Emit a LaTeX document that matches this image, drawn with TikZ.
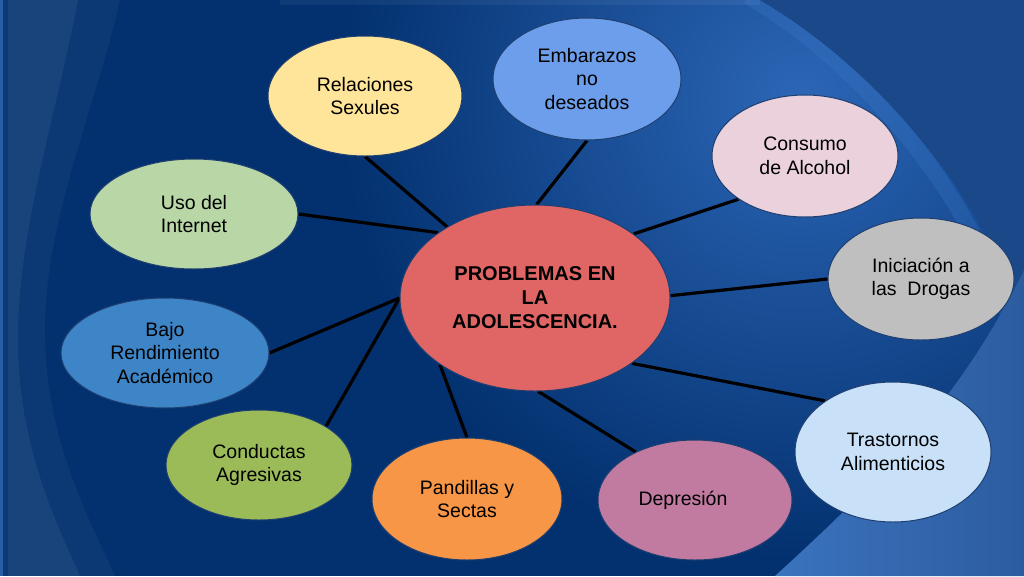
\documentclass[tikz,border=0pt]{standalone}
\usepackage{fontspec}
\setmainfont{Liberation Sans}
\usetikzlibrary{shapes.geometric}
\pgfdeclarelayer{bg}
\pgfdeclarelayer{edges}
\pgfsetlayers{bg,edges,main}
\definecolor{navy}{HTML}{03316F}
\definecolor{outerblue}{HTML}{1B4889}
\definecolor{lightblue}{HTML}{2C66B6}
\definecolor{rimblue}{HTML}{3A78C8}
\definecolor{brblueA}{HTML}{3B73BE}
\definecolor{brblueB}{HTML}{2C5CA0}
\definecolor{cred}{HTML}{E06666}
\definecolor{cyellow}{HTML}{FFE599}
\definecolor{cemb}{HTML}{6D9EEB}
\definecolor{ccons}{HTML}{EAD1DC}
\definecolor{cgray}{HTML}{BFBFBF}
\definecolor{ctras}{HTML}{C9E1F8}
\definecolor{cdep}{HTML}{C27BA0}
\definecolor{cpan}{HTML}{F79646}
\definecolor{ccond}{HTML}{9BBB59}
\definecolor{cbajo}{HTML}{3D85C6}
\definecolor{cuso}{HTML}{B9D7A6}
\definecolor{edgeblue}{HTML}{1F3F70}
\tikzset{
  bub/.style={ellipse, draw=edgeblue, line width=1pt, inner sep=0pt, align=center,
    text=black, font=\fontsize{19.5}{23.5}\selectfont},
  conn/.style={line width=3.2pt, black}
}
\begin{document}
\begin{tikzpicture}[x=1pt,y=-1pt]
\useasboundingbox (0,0) rectangle (1024,576);
\begin{pgfonlayer}{bg}
\fill[navy] (0,0) rectangle (1024,576);
% lighter disc region
\begin{scope}
\clip (0,0) -- (760,0) .. controls (880,70) and (985,200) .. (1024,320) -- (1024,576) -- (0,576) -- cycle;
\shade[inner color=lightblue, outer color=navy] (800,100) circle (460);
\draw[rimblue, opacity=0.3, line width=16pt] (748,-4) .. controls (866,66) and (970,196) .. (1010,320);
\fill[white, opacity=0.05] (280,0) rectangle (760,5);
\end{scope}
\fill[outerblue] (760,0) .. controls (880,70) and (985,200) .. (1024,320) -- (1024,0) -- cycle;
% bottom-right region
\shade[left color=brblueA, right color=brblueB] (775,576) .. controls (880,480) and (960,400) .. (1024,270) -- (1024,576) -- cycle;
% left waves
\fill[white, opacity=0.04] (0,0) -- (120,0) .. controls (95,110) and (45,220) .. (45,330) .. controls (45,440) and (90,520) .. (115,576) -- (0,576) -- cycle;
\fill[white, opacity=0.05] (0,0) -- (78,0) .. controls (55,120) and (18,230) .. (18,340) .. controls (18,450) and (60,530) .. (80,576) -- (0,576) -- cycle;
\fill[navy, opacity=0.5] (0,0) rectangle (8,576);
\fill[rimblue, opacity=0.6] (0,0) rectangle (2.5,576);
\end{pgfonlayer}

\node[bub, fill=cred, minimum width=270pt, minimum height=186pt, font=\fontsize{20}{24}\selectfont\bfseries] (c) at (535,298) {PROBLEMAS EN\\LA\\ADOLESCENCIA.};
\node[bub, fill=cyellow, minimum width=194pt, minimum height=120pt] (rel) at (365,96) {Relaciones\\Sexules};
\node[bub, fill=cemb, minimum width=188pt, minimum height=122pt] (emb) at (587,79) {Embarazos\\no\\deseados};
\node[bub, fill=ccons, minimum width=186pt, minimum height=122pt] (con) at (805,156) {Consumo\\de Alcohol};
\node[bub, fill=cgray, minimum width=186pt, minimum height=122pt] (ini) at (921,279) {Iniciación a\\las\ \ Drogas};
\node[bub, fill=ctras, minimum width=196pt, minimum height=140pt] (tra) at (893,452) {Trastornos\\Alimenticios};
\node[bub, fill=cdep, minimum width=194pt, minimum height=120pt] (dep) at (695,500) {Depresión\kern24pt};
\node[bub, fill=cpan, minimum width=190pt, minimum height=122pt] (pan) at (467,499) {Pandillas y\\Sectas};
\node[bub, fill=ccond, minimum width=186pt, minimum height=110pt] (cond) at (259,465) {Conductas\\Agresivas};
\node[bub, fill=cbajo, minimum width=208pt, minimum height=110pt] (bajo) at (165,353) {Bajo\\Rendimiento\\Académico};
\node[bub, fill=cuso, minimum width=208pt, minimum height=110pt] (uso) at (194,214) {Uso del\\Internet};

\begin{pgfonlayer}{edges}
\draw[conn] (rel.-90) -- (c.141);
\draw[conn] (emb.-90) -- (c.89);
\draw[conn] (con.213) -- (c.33);
\draw[conn] (ini.180) -- (c.1);
\draw[conn] (tra.143) -- (c.-34);
\draw[conn] (dep.141) -- (c.-88);
\draw[conn] (pan.90) -- (c.-145);
\draw[conn] (cond.30) -- (c.180);
\draw[conn] (bajo.0) -- (c.180);
\draw[conn] (uso.0) -- (c.146);
\end{pgfonlayer}
\end{tikzpicture}
\end{document}
